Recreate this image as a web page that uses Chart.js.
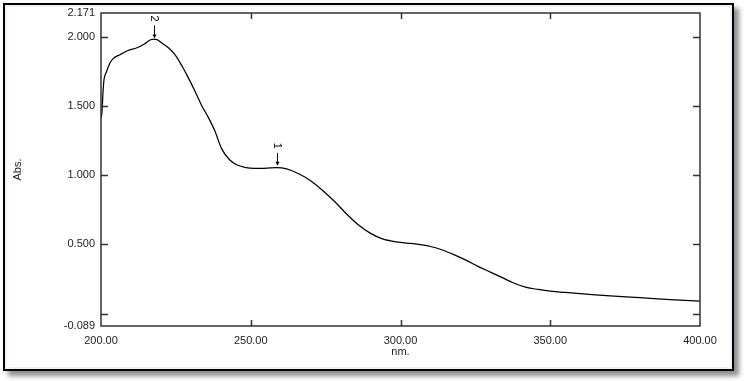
<!DOCTYPE html>
<html>
<head>
<meta charset="utf-8">
<script src="https://cdn.jsdelivr.net/npm/chart.js@4"></script>
<style>
  html, body { margin: 0; padding: 0; background: #fff; }
  .frame {
    position: absolute; left: 3px; top: 3px; width: 731px; height: 368px;
    box-sizing: border-box; border: 2px solid #000;
    box-shadow: 5px 5px 5px rgba(0,0,0,0.45), inset 0 0 0 2px #eef2fa;
    background: #fff;
  }
  canvas { position: absolute; left: 0; top: 0; }
</style>
</head>
<body>
<div class="frame"></div>
<canvas id="spectrum" width="747" height="381"></canvas>
<script>
// spectrum (nm, Abs.)
const wavelengths = [200.0, 200.3, 200.7, 201, 201.7, 203, 204, 206.3, 209, 212, 214.7, 217, 218.3,
  220.3, 222.5, 224.7, 227, 229, 231.3, 233.7, 236, 238, 240.3, 243, 245.3, 248, 251.3, 254.5, 258.7,
  262, 266, 270, 274, 278, 282, 286, 290, 294, 298, 302, 306, 310, 314, 318, 322, 326, 330, 334, 338,
  342, 346, 350, 355, 360, 370, 380, 390, 400];
const absorbance = [1.41, 1.45, 1.61, 1.69, 1.74, 1.81, 1.84, 1.87, 1.90, 1.92, 1.95, 1.98, 1.98,
  1.955, 1.92, 1.87, 1.79, 1.71, 1.61, 1.50, 1.41, 1.32, 1.19, 1.11, 1.075, 1.057, 1.05, 1.05, 1.055,
  1.045, 1.01, 0.96, 0.89, 0.81, 0.72, 0.64, 0.58, 0.54, 0.52, 0.51, 0.50, 0.485, 0.46, 0.425, 0.385,
  0.34, 0.30, 0.26, 0.22, 0.19, 0.175, 0.163, 0.153, 0.145, 0.128, 0.115, 0.102, 0.091];

// picked peaks
const peakLabels = ['2', '1'];
const peakNm = [217.7, 258.7];
const peakAbs = [1.98, 1.06];

// axis ticks
const xTicks = [200, 250, 300, 350, 400];
const yTicks = [-0.089, 0, 0.5, 1, 1.5, 2, 2.171];

const font = { family: '"Liberation Sans", Arial, sans-serif', size: 11 };

const framePlugin = {
  id: 'frame',
  afterDraw(chart) {
    const { ctx, chartArea: a, scales: { x, y } } = chart;
    ctx.save();
    ctx.strokeStyle = '#333';
    ctx.lineWidth = 1.5;
    ctx.strokeRect(a.left, a.top, a.right - a.left, a.bottom - a.top);

    // inward tick marks on all four sides
    ctx.beginPath();
    yTicks.slice(1, -1).forEach(v => {
      const py = Math.round(y.getPixelForValue(v)) + 0.5;
      ctx.moveTo(a.left, py); ctx.lineTo(a.left + 7, py);
      ctx.moveTo(a.right, py); ctx.lineTo(a.right - 7, py);
    });
    xTicks.slice(1, -1).forEach(v => {
      const px = Math.round(x.getPixelForValue(v)) + 0.5;
      ctx.moveTo(px, a.bottom); ctx.lineTo(px, a.bottom - 6);
      ctx.moveTo(px, a.top); ctx.lineTo(px, a.top + 6);
    });
    ctx.stroke();

    // peak markers
    ctx.fillStyle = '#000';
    ctx.strokeStyle = '#000';
    ctx.lineWidth = 1;
    ctx.font = '11px ' + font.family;
    peakLabels.forEach((lab, i) => {
      const px = Math.round(x.getPixelForValue(peakNm[i])) + 0.5;
      const py = y.getPixelForValue(peakAbs[i]);
      ctx.beginPath();
      ctx.moveTo(px, py - 14); ctx.lineTo(px, py - 2);
      ctx.stroke();
      ctx.beginPath();
      ctx.moveTo(px - 2, py - 5); ctx.lineTo(px + 2, py - 5); ctx.lineTo(px, py - 1);
      ctx.closePath(); ctx.fill();
      ctx.save();
      ctx.translate(px, py - 21);
      ctx.rotate(Math.PI / 2);
      ctx.textAlign = 'center';
      ctx.textBaseline = 'middle';
      ctx.fillText(lab, 0, 0);
      ctx.restore();
    });
    ctx.restore();
  }
};

new Chart(document.getElementById('spectrum'), {
  type: 'line',
  data: {
    datasets: [{
      data: wavelengths.map((w, i) => ({ x: w, y: absorbance[i] })),
      borderColor: '#000',
      borderWidth: 1.25,
      pointRadius: 0,
      cubicInterpolationMode: 'monotone',
      fill: false
    }]
  },
  options: {
    responsive: false,
    animation: false,
    layout: { padding: { left: 0, right: 47, top: 13, bottom: 0 } },
    plugins: { legend: { display: false }, tooltip: { enabled: false } },
    scales: {
      x: {
        type: 'linear',
        min: 200,
        max: 400,
        afterBuildTicks: s => { s.ticks = xTicks.map(v => ({ value: v })); },
        afterFit: s => { s.height = 55; },
        grid: { display: false, drawTicks: false },
        border: { display: false },
        ticks: {
          font, color: '#222', padding: 8, maxRotation: 0, autoSkip: false,
          callback: v => Number(v).toFixed(2)
        },
        title: { display: true, text: 'nm.', font, color: '#222', padding: { top: 0, bottom: 22 } }
      },
      y: {
        type: 'linear',
        min: -0.089,
        max: 2.171,
        afterBuildTicks: s => { s.ticks = yTicks.map(v => ({ value: v })); },
        afterFit: s => { s.width = 101; },
        grid: { display: false, drawTicks: false },
        border: { display: false },
        ticks: {
          font, color: '#222', padding: 6, autoSkip: false,
          callback: v => (v === 0 ? '' : Number(v).toFixed(3))
        },
        title: { display: true, text: 'Abs.', font, color: '#222', padding: { top: 11, bottom: 0 } }
      }
    }
  },
  plugins: [framePlugin]
});
</script>
</body>
</html>
